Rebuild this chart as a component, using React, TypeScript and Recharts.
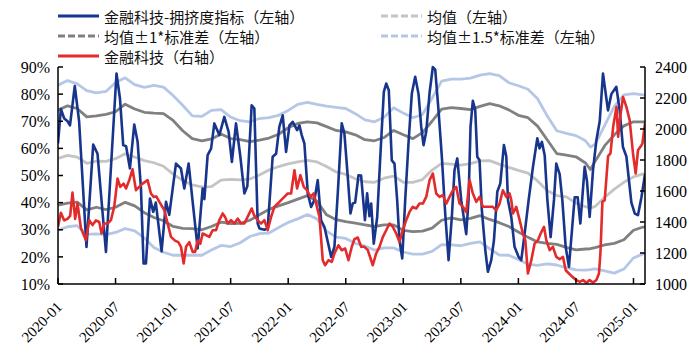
import React from 'react';
import { LineChart, Line, XAxis, YAxis } from 'recharts';

// x position of every point is months since 2020-01
const xTicks = [0, 6, 12, 18, 24, 30, 36, 42, 48, 54, 60];
const xTickLabels = ['2020-01', '2020-07', '2021-01', '2021-07', '2022-01', '2022-07', '2023-01', '2023-07', '2024-01', '2024-07', '2025-01'];
const leftTicks = [10, 20, 30, 40, 50, 60, 70, 80, 90];
const rightTicks = [1000, 1200, 1400, 1600, 1800, 2000, 2200, 2400];

// 金融科技-拥挤度指标 (%), [month, value]
const crowding: [number, number][] = [
  [0, 61.8], [0.3, 74.5], [0.65, 71], [1.0, 70], [1.25, 68.5], [1.75, 83], [2.2, 70], [2.97, 23.7],
  [3.67, 61.4], [4.12, 58], [5.0, 21.8], [6.1, 87.6], [6.46, 78.4], [6.8, 61.2], [7.1, 60.8], [7.5, 52.6],
  [7.95, 68.8], [8.3, 62.4], [8.65, 45.2], [8.92, 17.6], [9.17, 17.6], [9.59, 41.5], [9.93, 36.6], [10.2, 40],
  [10.8, 22], [11.26, 40.3], [11.6, 35.5], [12.3, 54.4], [12.82, 52.6], [13.17, 45.2], [13.62, 54.4], [14.04, 40.3],
  [14.56, 23.1], [15.08, 45.2], [15.26, 41.3], [15.6, 57.5], [15.96, 59.9], [16.3, 69.2], [16.82, 64.9], [17.34, 71.6],
  [17.79, 66.1], [18.13, 55], [18.56, 69.2], [19.01, 57], [19.43, 43.4], [19.74, 46], [20.19, 75.9], [20.47, 74.7],
  [20.82, 32.3], [21.0, 30.5], [21.52, 30], [21.86, 30.5], [22.38, 56.9], [22.74, 58], [23.08, 68], [23.43, 72.2],
  [23.78, 58.7], [24.13, 68.5], [24.47, 69.8], [24.93, 66.7], [25.17, 68.5], [25.41, 64.9], [25.69, 61.8], [26.04, 43.4],
  [26.39, 38.4], [26.73, 40.9], [27.08, 48.3], [27.43, 33.5], [27.78, 31], [28.48, 20], [28.82, 23.7], [29.17, 43.5],
  [29.58, 69.2], [29.86, 65.5], [30.21, 49.5], [30.49, 36], [30.73, 39.7], [30.98, 40], [31.33, 50.1], [31.6, 50],
  [31.85, 39.7], [32.0, 33.5], [32.23, 43.4], [32.47, 35], [32.65, 39.7], [32.92, 24.9], [33.28, 34.7], [33.62, 58.1],
  [33.97, 80.8], [34.22, 83.9], [34.49, 81.4], [34.8, 55.6], [35.08, 54.4], [35.36, 40.9], [35.6, 26.1], [35.89, 19.4],
  [36.2, 41], [36.54, 61.8], [36.89, 80.2], [37.24, 86.4], [37.59, 80], [37.87, 67.9], [38.11, 61.2], [38.39, 66.1],
  [38.74, 80.5], [39.08, 90], [39.33, 89], [39.67, 74.1], [40.02, 56.9], [40.37, 36], [40.72, 18.8], [41.06, 34.7],
  [41.34, 52], [41.63, 56.3], [42.04, 40.9], [42.56, 28.4], [42.8, 40.9], [43.01, 67.9], [43.25, 77.5], [43.5, 74.1],
  [43.71, 56.9], [43.95, 55.6], [44.19, 37.2], [44.55, 22.5], [44.82, 14.5], [45.17, 18.8], [45.45, 26.1], [45.8, 44],
  [46.11, 47], [46.49, 61.2], [46.74, 57], [46.91, 41], [47.26, 34.7], [47.6, 23.7], [48.02, 20], [48.3, 18.8],
  [48.65, 28.6], [49.07, 41], [49.52, 53.2], [49.97, 63.7], [50.21, 60], [50.45, 62.4], [50.74, 57.5], [51.02, 41],
  [51.36, 27.3], [51.71, 41], [51.95, 54.4], [52.3, 50.5], [52.58, 41], [52.93, 23.7], [53.27, 16.3], [53.87, 42],
  [54.18, 42], [54.46, 32.3], [54.91, 53.2], [55.15, 48], [55.43, 34.7], [55.78, 52], [56.13, 63], [56.48, 70],
  [56.82, 87.6], [57.34, 74], [57.69, 80], [58.21, 82.7], [58.56, 74], [58.9, 60.5], [59.26, 57], [59.78, 40],
  [60.13, 36], [60.47, 35.4], [60.83, 42], [61.2, 50.5],
];

// 金融科技 index (right axis), [month, value]
const fintech: [number, number][] = [
  [0, 1370], [0.3, 1460], [0.65, 1410], [0.99, 1420], [1.27, 1440], [1.51, 1590], [1.79, 1420], [2.03, 1519],
  [2.39, 1360], [2.91, 1283], [3.26, 1412], [3.6, 1380], [3.95, 1410], [4.3, 1400], [4.54, 1326], [4.82, 1390],
  [5.17, 1390], [5.52, 1412], [5.86, 1498], [6.21, 1680], [6.49, 1627], [6.84, 1648], [7.09, 1616], [7.43, 1670],
  [7.77, 1740], [8.13, 1605], [8.47, 1627], [8.82, 1648], [9.34, 1670], [9.69, 1584], [9.97, 1562], [10.25, 1565],
  [10.57, 1530], [11.09, 1476], [11.43, 1390], [11.78, 1304], [12.2, 1280], [12.54, 1270], [12.82, 1240], [13.1, 1132],
  [13.35, 1240], [13.69, 1270], [14.04, 1207], [14.29, 1207], [14.56, 1280], [14.84, 1260], [15.08, 1326], [15.43, 1315],
  [15.78, 1304], [16.12, 1347], [16.48, 1347], [16.82, 1412], [17.17, 1455], [17.42, 1433], [17.69, 1390], [18.04, 1412],
  [18.39, 1390], [18.73, 1422], [19.09, 1390], [19.43, 1390], [19.77, 1433], [20.19, 1487], [20.47, 1440], [20.82, 1412],
  [21.17, 1390], [21.52, 1412], [21.86, 1347], [22.22, 1433], [22.56, 1498], [22.91, 1519], [23.26, 1541], [23.6, 1562],
  [23.95, 1584], [24.3, 1584], [24.65, 1734], [24.93, 1616], [25.27, 1702], [25.62, 1627], [25.97, 1605], [26.32, 1562],
  [26.66, 1584], [26.91, 1519], [27.26, 1433], [27.6, 1154], [27.85, 1121], [28.2, 1154], [28.54, 1143], [28.82, 1197],
  [29.24, 1250], [29.58, 1218], [29.94, 1229], [30.28, 1154], [30.63, 1240], [30.91, 1290], [31.25, 1300], [31.61, 1240],
  [31.95, 1240], [32.3, 1218], [32.82, 1121], [33.17, 1197], [33.52, 1240], [33.87, 1304], [34.22, 1347], [34.56, 1390],
  [34.91, 1369], [35.26, 1326], [35.6, 1272], [35.95, 1347], [36.3, 1412], [36.65, 1465], [36.99, 1498], [37.35, 1487],
  [37.69, 1519], [38.04, 1519], [38.39, 1562], [38.74, 1670], [39.08, 1713], [39.43, 1584], [39.78, 1562], [40.12, 1573],
  [40.48, 1519], [40.82, 1562], [41.17, 1605], [41.52, 1627], [41.86, 1520], [42.21, 1498], [42.56, 1465], [42.91, 1670],
  [43.25, 1584], [43.61, 1530], [43.95, 1562], [44.3, 1498], [44.65, 1498], [45.0, 1498], [45.34, 1498], [45.69, 1476],
  [46.04, 1519], [46.38, 1605], [46.74, 1562], [47.08, 1584], [47.26, 1541], [47.43, 1455], [47.78, 1498], [48.13, 1412],
  [48.47, 1326], [48.72, 1283], [48.99, 1068], [49.35, 1154], [49.69, 1261], [50.04, 1283], [50.32, 1326], [50.67, 1369],
  [50.91, 1283], [51.26, 1218], [51.6, 1240], [51.95, 1175], [52.3, 1160], [52.65, 1175], [52.93, 1089], [53.27, 1068],
  [53.63, 1046], [54.05, 1025], [54.4, 1014], [54.74, 1025], [55.09, 1008], [55.43, 1025], [55.78, 1010], [56.13, 1025],
  [56.4, 1068], [56.55, 1197], [56.76, 1530], [57.0, 1541], [57.35, 1825], [57.6, 1842], [57.88, 2014], [58.23, 2143],
  [58.4, 1950], [58.57, 2057], [58.91, 2207], [59.26, 2143], [59.6, 2057], [59.95, 1842], [60.23, 1713], [60.47, 1863],
  [60.72, 1885], [60.93, 1906], [61.2, 2036],
];

// rolling statistics of the crowding indicator, sampled monthly
const bandMonths = [
  0, 1, 2, 3, 4, 5, 6, 7, 8, 9, 10, 11, 12, 13, 14, 15, 16, 17, 18, 19, 20, 21, 22, 23, 24, 25, 26, 27, 28, 29, 30,
  31, 32, 33, 34, 35, 36, 37, 38, 39, 40, 41, 42, 43, 44, 45, 46, 47, 48, 49, 50, 51, 52, 53, 54, 55, 55.5, 56, 57, 58,
  59, 60, 61, 61.2,
];
const upper15 = [
  83.3, 85, 83.8, 81.3, 80.5, 81, 84.3, 86, 83.5, 82.5, 83.2, 82.6, 79.5, 75.9, 72, 71.8, 74, 74.3, 71.5, 70.2, 69.8,
  71, 71.3, 72.2, 74, 76.2, 77, 76.2, 75.6, 75.1, 74.7, 72.8, 70.5, 69.8, 71.5, 75, 73, 71.3, 72.5, 78.5, 84.8, 85.5,
  85.5, 85.9, 87, 87.6, 86.8, 84.2, 83.1, 81.8, 78.3, 72, 66.5, 65.5, 64.7, 62.8, 60.5, 61.5, 68.5, 75.5, 79.7, 80.2,
  79.7, 79.6,
];
const upper1 = [
  74.1, 75.7, 74.7, 71.6, 72, 72.5, 73.5, 76.3, 74.5, 73.3, 73, 72.8, 70.3, 66.5, 63.6, 62.8, 63.5, 65.3, 63.6, 63.2,
  62.5, 63, 63.8, 65.2, 67.6, 69.2, 69.8, 69.4, 68, 66.6, 66.1, 65, 63.2, 62.8, 64, 66.6, 65, 63.6, 65.8, 70, 74.5, 75,
  74.7, 74.3, 75.5, 76.5, 75.7, 74.2, 72.2, 71.3, 68.2, 63.2, 58.1, 57.5, 56.9, 54.6, 52.2, 55.2, 61, 65, 68.3, 69.8,
  69.8, 69.8,
];
const meanLine = [
  56.3, 57.4, 56.8, 54.5, 55.3, 55.2, 56.2, 58, 56.8, 55.5, 54.7, 53.4, 50.5, 48.2, 46.5, 45.8, 45.9, 48.3, 48.6, 48.4,
  48.7, 50.2, 52, 53.3, 54.3, 55, 55.6, 55, 53.3, 51.3, 50.4, 48.8, 47.7, 47.5, 49, 49.8, 47.5, 47.5, 48.5, 52, 54.5,
  54.2, 53.8, 54.4, 55.4, 55.5, 54.2, 53, 51.9, 50.9, 48, 44.5, 42.6, 42.1, 39.8, 38.5, 38, 38.6, 42, 45, 47.5, 49.5,
  50.6, 50.7,
];
const lower1 = [
  39.1, 39.8, 40.2, 37.3, 38.3, 37.4, 38.3, 40.1, 38.8, 36.3, 34.5, 33.3, 31.2, 30.5, 30.4, 30, 31.2, 32.8, 32.3, 32.4,
  33.5, 35.5, 37.5, 38.8, 40, 41.3, 42.6, 40.5, 35.5, 33.7, 33, 32.4, 31.8, 31.2, 31.8, 31.8, 29.8, 29.3, 29.5, 30.6,
  33.5, 34.4, 33.6, 34.2, 35.2, 33.8, 32.6, 31.2, 29.2, 27.2, 25.5, 25, 24.6, 23.5, 22.6, 22.9, 23, 23.4, 24.4, 25, 26.3,
  29.8, 31, 31,
];
const lower15 = [
  29.8, 31.1, 31.5, 28.3, 28.5, 28.2, 29, 30.4, 29.6, 27, 23.5, 21.7, 20.6, 20.6, 20.6, 20.6, 22.5, 24.2, 23.8, 25.2,
  27.5, 28.6, 28.8, 30.8, 32.7, 34, 35.6, 34, 29.5, 27.3, 26.8, 25, 24, 22.5, 23.3, 23.3, 21.8, 21, 21, 22, 24.5, 24.4,
  24.1, 25, 25.5, 23, 20.7, 20.6, 19, 17.3, 16.9, 17.4, 17, 16, 15.2, 15.1, 15.3, 15.6, 14.8, 14, 15.5, 19.6, 21.1, 21.2,
];

const toPoints = (pts: [number, number][]) => pts.map(([m, v]) => ({ m, v }));
const toBand = (vals: number[]) => bandMonths.map((m, i) => ({ m, v: vals[i] }));

const NAVY = '#17358c';
const RED = '#e32b2b';
const MEAN_GRAY = '#c4c4c4';
const DARK_GRAY = '#808080';
const LIGHT_BLUE = '#b4c7e7';

const serif = '"Liberation Serif", "Times New Roman", serif';
const cjk = '"Noto Sans CJK SC", sans-serif';

const DateTick = ({ x, y, payload }: any) => {
  const label = xTickLabels[xTicks.indexOf(payload.value)];
  const px = x + 5;
  return (
    <text x={px} y={y} textAnchor="end" fontSize={15} fontFamily={serif} fill="#000" transform={`rotate(-45 ${px} ${y})`}>
      {label}
    </text>
  );
};

const legendRows = [
  { x: 58, y: 16, color: NAVY, dashed: false, text: '金融科技-拥挤度指标（左轴）' },
  { x: 381, y: 16, color: MEAN_GRAY, dashed: true, text: '均值（左轴）' },
  { x: 58, y: 36, color: DARK_GRAY, dashed: true, text: '均值±1*标准差（左轴）' },
  { x: 381, y: 36, color: LIGHT_BLUE, dashed: true, text: '均值±1.5*标准差（左轴）' },
  { x: 58, y: 56, color: RED, dashed: false, text: '金融科技（右轴）' },
];

export default function App() {
  const bandLine = (vals: number[], color: string, key: string) => (
    <Line
      key={key}
      yAxisId="left"
      data={toBand(vals)}
      dataKey="v"
      type="linear"
      stroke={color}
      strokeWidth={2.8}
      dot={false}
      activeDot={false}
      strokeLinejoin="round"
      isAnimationActive={false}
    />
  );

  return (
    <div style={{ position: 'absolute', left: 0, top: 0, width: 698, height: 363, background: '#fff' }}>
      <LineChart width={698} height={363} margin={{ top: 67, right: 0, bottom: 0, left: 0 }}>
        <XAxis
          type="number"
          dataKey="m"
          domain={[0, 61.2]}
          ticks={xTicks}
          allowDataOverflow
          height={79}
          tick={<DateTick />}
          tickSize={-6}
          tickMargin={30}
          axisLine={{ stroke: '#000', strokeWidth: 1.5 }}
          tickLine={{ stroke: '#000', strokeWidth: 1.5 }}
        />
        <YAxis
          yAxisId="left"
          orientation="left"
          width={58}
          domain={[10, 90]}
          ticks={leftTicks}
          tickFormatter={(v: number) => `${v}%`}
          tick={{ fontSize: 16, fontFamily: serif, fill: '#000' }}
          tickSize={-5}
          tickMargin={13}
          axisLine={{ stroke: '#000', strokeWidth: 1.5 }}
          tickLine={{ stroke: '#000', strokeWidth: 1.5 }}
        />
        <YAxis
          yAxisId="right"
          orientation="right"
          width={53}
          domain={[1000, 2400]}
          ticks={rightTicks}
          tick={{ fontSize: 16, fontFamily: serif, fill: '#000' }}
          tickSize={-5}
          tickMargin={15}
          axisLine={{ stroke: '#000', strokeWidth: 1.5 }}
          tickLine={{ stroke: '#000', strokeWidth: 1.5 }}
        />
        {bandLine(upper15, LIGHT_BLUE, 'u15')}
        {bandLine(lower15, LIGHT_BLUE, 'l15')}
        {bandLine(meanLine, MEAN_GRAY, 'mean')}
        {bandLine(upper1, DARK_GRAY, 'u1')}
        {bandLine(lower1, DARK_GRAY, 'l1')}
        <Line
          yAxisId="left"
          data={toPoints(crowding)}
          dataKey="v"
          type="linear"
          stroke={NAVY}
          strokeWidth={2.6}
          dot={false}
          activeDot={false}
          strokeLinejoin="round"
          isAnimationActive={false}
        />
        <Line
          yAxisId="right"
          data={toPoints(fintech)}
          dataKey="v"
          type="linear"
          stroke={RED}
          strokeWidth={2.6}
          dot={false}
          activeDot={false}
          strokeLinejoin="round"
          isAnimationActive={false}
        />
      </LineChart>
      <svg width={698} height={70} style={{ position: 'absolute', left: 0, top: 0 }}>
        {legendRows.map(r => (
          <g key={r.text}>
            <line
              x1={r.x}
              x2={r.x + 41}
              y1={r.y}
              y2={r.y}
              stroke={r.color}
              strokeWidth={3}
              strokeDasharray={r.dashed ? '7 3' : undefined}
            />
            <text x={r.x + 46} y={r.y} dominantBaseline="central" fontSize={15} fontFamily={cjk} fill="#111">
              {r.text}
            </text>
          </g>
        ))}
      </svg>
    </div>
  );
}
